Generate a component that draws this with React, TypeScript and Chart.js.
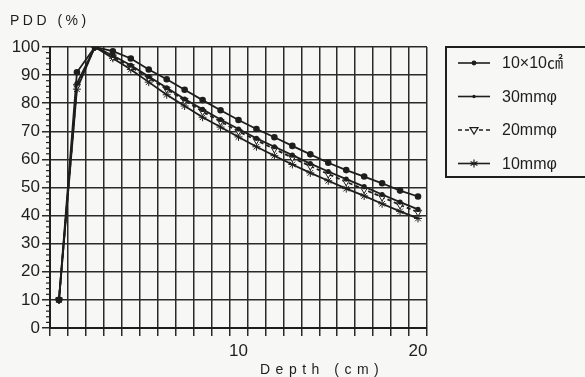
import { useEffect, useRef } from "react";
import { Chart, registerables } from "chart.js";
Chart.register(...registerables);

const depths = [0, 1, 2, 3, 4, 5, 6, 7, 8, 9, 10, 11, 12, 13, 14, 15, 16, 17, 18, 19, 20];
const pdd10x10 = [10, 91, 100, 98.5, 95.9, 92, 88.5, 84.8, 81.1, 77.5, 74, 70.8, 67.9, 64.8, 61.8, 58.8, 56.2, 53.9, 51.5, 48.9, 46.8];
const pdd30mm = [10, 87, 100, 97, 93.5, 89.5, 85.5, 81.5, 77.8, 74.2, 70.8, 67.5, 64.5, 61.5, 58.5, 55.7, 53, 50.3, 47.5, 44.8, 42.2];
const pdd20mm = [10, 86, 100, 96.5, 93, 89, 85, 81, 77, 73.5, 70, 66.8, 63.7, 60.6, 57.6, 54.8, 52, 49.3, 46.6, 43.8, 41.2];
const pdd10mm = [10, 85, 100, 96, 92, 87.5, 83, 79, 75, 71.5, 68, 64.5, 61.3, 58.2, 55.2, 52.4, 49.6, 47, 44.2, 41.5, 39];
const seriesLabels = ["10×10㎠", "30mmφ", "20mmφ", "10mmφ"];
const xTickLabels = ["10", "20"];
const yMin = 0;
const yMax = 100;
const yStep = 10;
const yMinorStep = 2;

const INK = "#1e1e1e";
const FONT = "'Liberation Sans', 'Noto Sans CJK JP', sans-serif";

const overlay = {
  id: "overlay",
  afterDraw(chart: any) {
    const ctx = chart.ctx as CanvasRenderingContext2D;
    const y = chart.scales.y;
    const area = chart.chartArea;
    ctx.save();
    // minor ticks on y axis
    ctx.strokeStyle = INK;
    ctx.lineWidth = 1.2;
    for (let v = yMin; v <= yMax; v += yMinorStep) {
      if (v % yStep === 0) continue;
      const py = y.getPixelForValue(v);
      ctx.beginPath();
      ctx.moveTo(area.left - 4, py);
      ctx.lineTo(area.left, py);
      ctx.stroke();
    }
    // titles
    ctx.fillStyle = INK;
    ctx.font = `14px ${FONT}`;
    (ctx as any).letterSpacing = "3.5px";
    ctx.textBaseline = "alphabetic";
    ctx.textAlign = "left";
    ctx.fillText("PDD (%)", 10, 25);
    (ctx as any).letterSpacing = "5.5px";
    ctx.fillText("Depth (cm)", 260, 374);
    (ctx as any).letterSpacing = "0px";

    // legend
    const bx = 446, by = 47, bh = 130;
    ctx.lineWidth = 2;
    ctx.strokeRect(bx, by, 200, bh);
    const ds = chart.data.datasets;
    ds.forEach((d: any, i: number) => {
      const ly = 63 + i * 33.5;
      ctx.strokeStyle = INK;
      ctx.lineWidth = 1.6;
      ctx.setLineDash(d.borderDash || []);
      ctx.beginPath();
      ctx.moveTo(458, ly);
      ctx.lineTo(490, ly);
      ctx.stroke();
      ctx.setLineDash([]);
      const cx = 474;
      if (d.pointStyle === "circle") {
        ctx.beginPath();
        ctx.arc(cx, ly, d.pointRadius, 0, Math.PI * 2);
        ctx.fillStyle = INK;
        ctx.fill();
      } else if (d.pointStyle === "triangle") {
        const r = d.pointRadius;
        ctx.beginPath();
        ctx.moveTo(cx - r, ly - r * 0.6);
        ctx.lineTo(cx + r, ly - r * 0.6);
        ctx.lineTo(cx, ly + r);
        ctx.closePath();
        ctx.fillStyle = "#fff";
        ctx.fill();
        ctx.lineWidth = 1.2;
        ctx.stroke();
      } else {
        const r = d.pointRadius;
        ctx.lineWidth = 1.2;
        ctx.beginPath();
        for (let k = 0; k < 3; k++) {
          const a = (k * Math.PI) / 3 + Math.PI / 2;
          ctx.moveTo(cx + Math.cos(a) * r, ly + Math.sin(a) * r);
          ctx.lineTo(cx - Math.cos(a) * r, ly - Math.sin(a) * r);
        }
        ctx.stroke();
      }
      ctx.fillStyle = INK;
      ctx.font = `16px ${FONT}`;
      ctx.textBaseline = "middle";
      ctx.fillText(d.label, 502, ly + 1);
    });
    ctx.restore();
  },
};

export default function App() {
  const ref = useRef<HTMLCanvasElement | null>(null);
  useEffect(() => {
    if (!ref.current) return;
    const common = { borderColor: INK, borderWidth: 1.8, tension: 0, pointBorderColor: INK };
    const chart = new Chart(ref.current, {
      type: "line",
      data: {
        labels: depths.map(String),
        datasets: [
          { ...common, label: seriesLabels[0], data: pdd10x10, pointStyle: "circle", pointRadius: 2.4, pointBackgroundColor: INK },
          { ...common, label: seriesLabels[1], data: pdd30mm, pointStyle: "circle", pointRadius: 1.7, pointBackgroundColor: INK },
          { ...common, label: seriesLabels[2], data: pdd20mm, pointStyle: "triangle", rotation: 180, pointRadius: 4, pointBackgroundColor: "#fff", pointBorderWidth: 1, borderDash: [4, 3] },
          { ...common, label: seriesLabels[3], data: pdd10mm, pointStyle: "star", pointRadius: 4, pointBorderWidth: 1 },
        ] as any,
      },
      options: {
        animation: false,
        responsive: false,
        layout: { padding: { top: 47, right: 158, left: 0, bottom: 0 } },
        plugins: { legend: { display: false }, tooltip: { enabled: false } },
        scales: {
          x: {
            type: "category",
            offset: true,
            grid: { offset: true, color: "#2a2a2a", lineWidth: 1.5, tickLength: 8 },
            border: { color: INK, width: 2 },
            ticks: {
              autoSkip: false,
              maxRotation: 0,
              padding: 5,
              color: INK,
              font: { size: 17, family: FONT },
              callback: function (this: any, v: any) {
                const l = this.getLabelForValue(v);
                return xTickLabels.includes(l) ? l : "";
              },
            },
            afterFit: (s: any) => { s.height = 49; },
          },
          y: {
            min: yMin,
            max: yMax,
            grid: { color: "#2a2a2a", lineWidth: 1.5, tickLength: 8 },
            border: { color: INK, width: 2 },
            ticks: { stepSize: yStep, padding: 2, color: INK, font: { size: 17, family: FONT } },
            afterFit: (s: any) => { s.width = 50; },
          },
        },
      },
      plugins: [overlay],
    });
    return () => chart.destroy();
  }, []);
  return (
    <div style={{ position: "fixed", left: 0, top: 0, width: 585, height: 377, background: "#f7f7f5" }}>
      <canvas ref={ref} width={585} height={377} style={{ display: "block" }} />
    </div>
  );
}
